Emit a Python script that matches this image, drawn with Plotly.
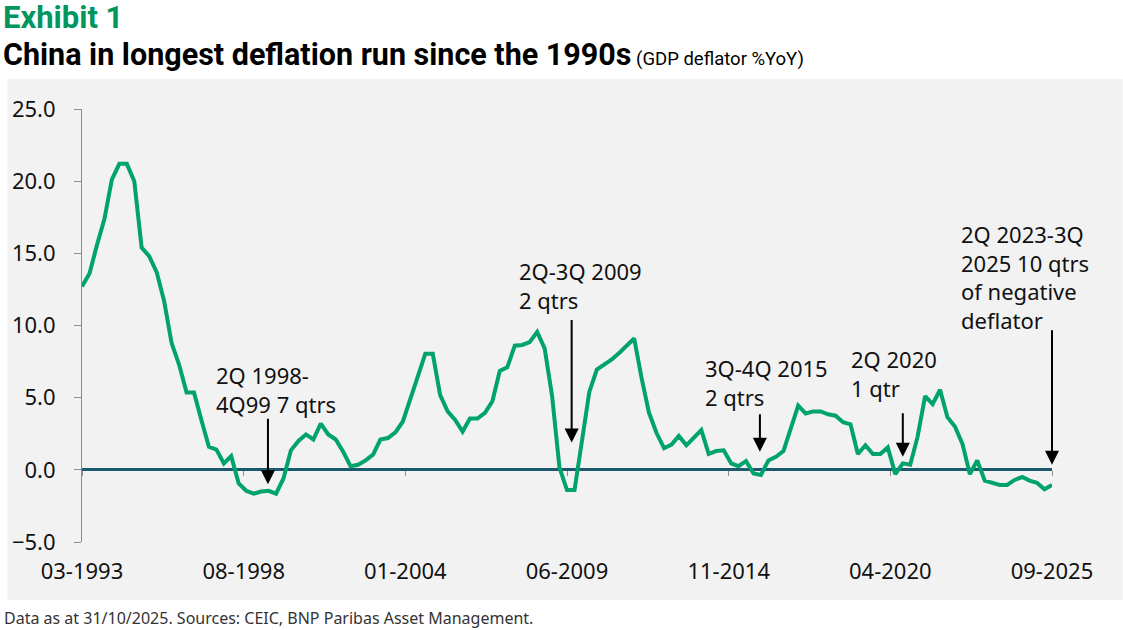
import pandas as pd
import plotly.graph_objects as go

# GDP deflator %YoY, quarterly 1Q1993 - 3Q2025
deflator = [
    12.7, 13.6, 15.6, 17.4, 20.1, 21.2, 21.2, 20.0,      # 1993-94
    15.4, 14.8, 13.7, 11.7, 8.8, 7.3, 5.35, 5.35,        # 1995-96
    3.45, 1.6, 1.4, 0.45, 0.95, -0.95, -1.45, -1.65,     # 1997-98
    -1.5, -1.45, -1.65, -0.6, 1.35, 2.0, 2.45, 2.1,      # 1999-00
    3.2, 2.45, 2.1, 1.25, 0.25, 0.35, 0.65, 1.05,        # 2001-02
    2.1, 2.2, 2.6, 3.35, 4.9, 6.5, 8.05, 8.05,           # 2003-04
    5.2, 4.05, 3.45, 2.65, 3.55, 3.55, 3.95, 4.75,       # 2005-06
    6.85, 7.1, 8.6, 8.65, 8.85, 9.55, 8.4, 5.1,          # 2007-08
    0.15, -1.4, -1.4, 2.0, 5.4, 6.95, 7.3, 7.65,         # 2009-10
    8.1, 8.6, 9.1, 6.35, 3.95, 2.55, 1.5, 1.75,          # 2011-12
    2.35, 1.7, 2.25, 2.75, 1.1, 1.3, 1.35, 0.45,         # 2013-14
    0.25, 0.6, -0.25, -0.35, 0.65, 0.9, 1.3, 2.8,        # 2015-16
    4.45, 3.9, 4.05, 4.05, 3.85, 3.75, 3.3, 3.15,        # 2017-18
    1.1, 1.7, 1.1, 1.1, 1.55, -0.3, 0.45, 0.35,          # 2019-20
    2.3, 5.1, 4.55, 5.55, 3.65, 3.0, 1.8, -0.3,          # 2021-22
    0.65, -0.75, -0.9, -1.05, -1.05, -0.7, -0.5, -0.75,  # 2023-24
    -0.9, -1.35, -1.05,                                  # 2025
]
quarters = pd.date_range("1993-03-01", periods=len(deflator), freq="3MS")

tick_labels = ["03-1993", "08-1998", "01-2004", "06-2009", "11-2014", "04-2020", "09-2025"]
tick_dates = [pd.to_datetime(t, format="%m-%Y") for t in tick_labels]

# (arrow tip date, tip value, arrow length px)
arrows = [
    ("1999-05-25", -1.0, 67),
    ("2009-07-28", 1.9, 124),
    ("2015-11-18", 1.25, 39),
    ("2020-09-01", 0.9, 45),
    ("2025-09-01", 0.35, 136),
]
# (text, left px, centre px)
notes = [
    ("2Q 1998-<br>4Q99 7 qtrs", 216, 389),
    ("2Q-3Q 2009<br>2 qtrs", 520, 285),
    ("3Q-4Q 2015<br>2 qtrs", 707, 382),
    ("2Q 2020<br>1 qtr", 853, 373),
    ("2Q 2023-3Q<br>2025 10 qtrs<br>of negative<br>deflator", 964, 277),
]

W, H = 1123, 630
L, R, T, B = 78, 71, 109, 88
Y_RANGE = [-5, 25]
PAD = 5  # annotation text box inner padding

def px(x):
    return (x - PAD - L) / (W - L - R)

def py(y):
    return (H - B - y) / (H - T - B)

GREEN = "#00a36c"
TEAL = "#1b5a6e"
FONT = "Noto Sans"

fig = go.Figure()
fig.add_trace(go.Scatter(x=quarters, y=deflator, mode="lines",
                         line=dict(color=GREEN, width=4),
                         showlegend=False, hoverinfo="x+y"))
# helper so the tick-mark axis at zero is drawn
fig.add_trace(go.Scatter(x=quarters, y=deflator, mode="none", xaxis="x2",
                         showlegend=False, hoverinfo="skip"))

for d, v, length in arrows:
    fig.add_annotation(x=d, y=v, xref="x", yref="y", text="", showarrow=True,
                       ax=0, ay=-length, arrowhead=2, arrowsize=1.4,
                       arrowwidth=2, arrowcolor="black", standoff=0)

for txt, x, y in notes:
    fig.add_annotation(x=px(x), y=py(y), xref="paper", yref="paper", text=txt,
                       showarrow=False, xanchor="left", yanchor="middle", align="left",
                       font=dict(family=FONT, size=22, color="#111111"))

# headings and footer
fig.add_annotation(x=px(2), y=py(17), xref="paper", yref="paper", text="<b>Exhibit 1</b>",
                   showarrow=False, xanchor="left", yanchor="middle",
                   font=dict(family="Roboto", size=31, color="#00965e"))
fig.add_annotation(x=px(2), y=py(55), xref="paper", yref="paper",
                   text="<b>China in longest deflation run since the 1990s</b>"
                        "<span style='font-size:18.5px'> (GDP deflator %YoY)</span>",
                   showarrow=False, xanchor="left", yanchor="middle",
                   font=dict(family="Roboto", size=30.5, color="black"))
fig.add_annotation(x=px(3), y=py(618), xref="paper", yref="paper",
                   text="Data as at 31/10/2025. Sources: CEIC, BNP Paribas Asset Management.",
                   showarrow=False, xanchor="left", yanchor="middle",
                   font=dict(family=FONT, size=16, color="#333333"))

# grey chart panel
fig.add_shape(type="rect", xref="paper", yref="paper", x0=px(3 + PAD), x1=px(1123 + PAD),
              y0=py(600), y1=py(79), fillcolor="#f2f2f2", line=dict(width=0), layer="below")

fig.update_layout(
    width=W, height=H,
    margin=dict(l=L, r=R, t=T, b=B),
    paper_bgcolor="white",
    plot_bgcolor="rgba(0,0,0,0)",
    xaxis=dict(type="date", range=[quarters[0], quarters[-1]],
               tickvals=tick_dates, ticktext=tick_labels,
               showgrid=False, zeroline=False, showline=False, ticks="",
               ticklabelstandoff=14,
               tickfont=dict(family=FONT, size=22, color="#111111")),
    xaxis2=dict(type="date", overlaying="x", anchor="free",
                position=(0 - Y_RANGE[0]) / (Y_RANGE[1] - Y_RANGE[0]),
                range=[quarters[0], quarters[-1]], tickvals=tick_dates,
                showticklabels=False, ticks="outside", ticklen=5,
                tickcolor="#8c8c8c", showgrid=False, zeroline=False, showline=False),
    yaxis=dict(range=Y_RANGE, dtick=5, tickformat=".1f",
               showgrid=False, showline=True, linecolor="#8c8c8c", linewidth=1,
               ticks="outside", ticklen=7, tickcolor="#8c8c8c",
               zeroline=True, zerolinecolor=TEAL, zerolinewidth=3,
               ticklabelstandoff=14,
               tickfont=dict(family=FONT, size=22, color="#111111")),
)

# page margin off so the 1123x630 figure fills the window exactly
fig.write_html("out.html", config={"displayModeBar": False},
               post_script="document.body.style.margin='0';")
